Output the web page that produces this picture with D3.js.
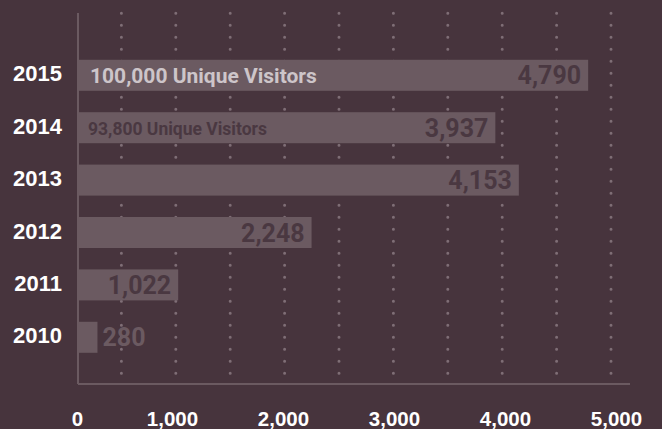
<!DOCTYPE html>
<html>
<head>
<meta charset="utf-8">
<script src="https://cdn.jsdelivr.net/npm/d3@7"></script>
<style>
  html, body { margin: 0; padding: 0; background: #47343d; }
  svg { display: block; }
</style>
</head>
<body>
<svg id="chart" width="662" height="429"></svg>
<script>
// chart data
var years = ['2015', '2014', '2013', '2012', '2011', '2010'];
var values = [4790, 3937, 4153, 2248, 1022, 280];
var notes = ['100,000 Unique Visitors', '93,800 Unique Visitors', '', '', '', ''];
var tickValues = [0, 1000, 2000, 3000, 4000, 5000];
var gridValues = [500, 1000, 1500, 2000, 2500, 3000, 3500, 4000, 4500, 5000];

var width = 662, height = 429;
var axisX = 78, axisTop = 13, axisBottom = 384, axisRight = 630;

var bg = '#47343d', barColor = '#6b5a61', dark = '#4a3841', gridColor = '#7f6e76';

var svg = d3.select('#chart');
svg.append('rect').attr('width', width).attr('height', height).attr('fill', bg);

var x = d3.scaleLinear().domain([0, 5000]).range([67, 611]);
var y = d3.scaleBand().domain(years).range([49.1, 363.5]).paddingInner(0.408).paddingOuter(0.204);

// dotted grid
svg.append('g').selectAll('line')
  .data(gridValues)
  .enter().append('line')
  .attr('x1', function(d) { return x(d); })
  .attr('x2', function(d) { return x(d); })
  .attr('y1', 13.3)
  .attr('y2', 374)
  .attr('stroke', gridColor)
  .attr('stroke-width', 3)
  .attr('stroke-linecap', 'round')
  .attr('stroke-dasharray', '0 12');

// bars
var rows = years.map(function(yr, i) { return {year: yr, value: values[i], note: notes[i]}; });

svg.append('g').selectAll('rect')
  .data(rows)
  .enter().append('rect')
  .attr('x', axisX)
  .attr('y', function(d) { return y(d.year); })
  .attr('width', function(d) { return Math.max(0, x(d.value) - axisX); })
  .attr('height', y.bandwidth())
  .attr('fill', barColor);

// axis lines
svg.append('line').attr('x1', axisX).attr('x2', axisX).attr('y1', axisTop).attr('y2', axisBottom)
  .attr('stroke', barColor).attr('stroke-width', 2);
svg.append('line').attr('x1', axisX).attr('x2', axisRight).attr('y1', axisBottom).attr('y2', axisBottom)
  .attr('stroke', barColor).attr('stroke-width', 2);

// value labels: inside the bar when it fits, otherwise just past its end
svg.append('g').selectAll('text')
  .data(rows)
  .enter().append('text')
  .attr('x', function(d) { return d.value < 500 ? x(d.value) + 5 : x(d.value) - 7; })
  .attr('y', function(d) { return y(d.year) + y.bandwidth() / 2 + 9; })
  .attr('text-anchor', function(d) { return d.value < 500 ? 'start' : 'end'; })
  .attr('font-family', 'Roboto, sans-serif')
  .attr('font-weight', 700)
  .attr('font-size', 25)
  .attr('fill', function(d) { return d.value < 500 ? barColor : dark; })
  .text(function(d) { return d3.format(',')(d.value); });

// visitor notes
svg.append('g').selectAll('text')
  .data(rows.filter(function(d) { return d.note; }))
  .enter().append('text')
  .attr('x', function(d, i) { return i === 0 ? 90 : 88; })
  .attr('y', function(d, i) { return y(d.year) + y.bandwidth() / 2 + (i === 0 ? 8 : 7); })
  .attr('font-family', 'Roboto, sans-serif')
  .attr('font-weight', 700)
  .attr('font-size', function(d, i) { return i === 0 ? 21 : 17.5; })
  .attr('fill', function(d, i) { return i === 0 ? '#cdc5c9' : dark; })
  .text(function(d) { return d.note; });

// year labels
svg.append('g').selectAll('text')
  .data(years)
  .enter().append('text')
  .attr('x', 62)
  .attr('y', function(d) { return y(d) + y.bandwidth() / 2 + 6; })
  .attr('text-anchor', 'end')
  .attr('font-family', '"Liberation Sans", Arial, sans-serif')
  .attr('font-weight', 700)
  .attr('font-size', 22)
  .attr('fill', '#ffffff')
  .text(function(d) { return d; });

// bottom tick labels (spaced a little wider than the bars, as drawn in the original)
var labelX = d3.scaleLinear().domain([1000, 5000]).range([172.5, 616.5]);
var xAxis = d3.axisBottom(labelX).tickValues(tickValues).tickSize(0).tickFormat(d3.format(','));
var gx = svg.append('g').attr('transform', 'translate(0,' + 425.5 + ')').call(xAxis);
gx.select('.domain').remove();
gx.selectAll('.tick')
  .attr('transform', function(d) { return 'translate(' + (d === 0 ? axisX - 0.5 : labelX(d)) + ',0)'; });
gx.selectAll('text')
  .attr('y', 0).attr('dy', 0)
  .attr('font-family', '"Liberation Sans", Arial, sans-serif')
  .attr('font-weight', 700)
  .attr('font-size', 20.5)
  .attr('fill', '#ffffff');
</script>
</body>
</html>
